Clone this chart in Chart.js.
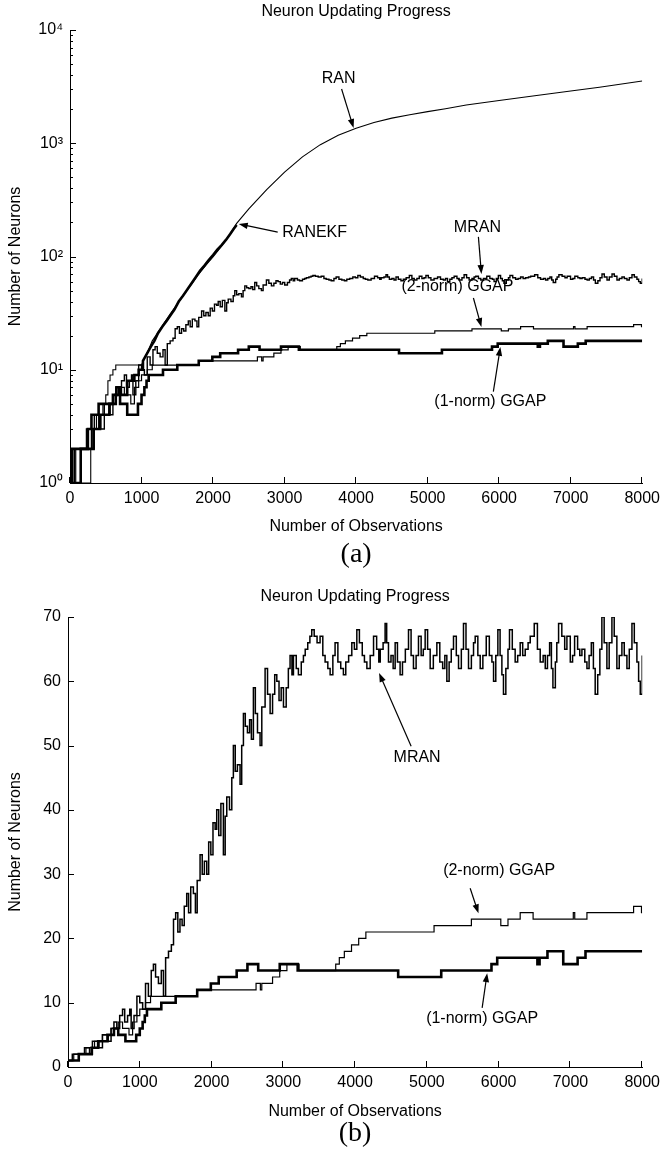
<!DOCTYPE html>
<html>
<head>
<meta charset="utf-8">
<script src="https://cdn.jsdelivr.net/npm/chart.js@4.4.0/dist/chart.umd.min.js"></script>
<style>
html,body{margin:0;padding:0;background:#fff;}
#wrap{position:relative;width:660px;height:1163px;background:#fff;}
.box{position:absolute;left:0;width:660px;}
canvas{display:block;}
</style>
</head>
<body>
<div id="wrap">
  <div class="box" style="top:0;height:575px"><canvas id="ca" width="660" height="575"></canvas></div>
  <div class="box" style="top:575px;height:588px"><canvas id="cb" width="660" height="588"></canvas></div>
</div>
<script>
// ---------- data ----------
const chartTitle = 'Neuron Updating Progress';
const xTitle = 'Number of Observations';
const yTitle = 'Number of Neurons';
const obsTicks = [0, 1000, 2000, 3000, 4000, 5000, 6000, 7000, 8000];
const logTicks = [1, 10, 100, 1000, 10000];
const logTickLabels = ['10⁰', '10¹', '10²', '10³', '10⁴'];
const linTicks = [0, 10, 20, 30, 40, 50, 60, 70];

// [observation, neurons]
const ranPts = [[0,1],[290,1],[290,2],[320,2],[320,3],[400,3],[400,4],[460,4],[460,5],[500,5],[500,6],[530,6],[530,8],[560,8],[560,9],[600,9],[600,10],[640,10],[640,11],[1000,11],
  [1050,13],[1100,15],[1150,18],[1200,20],[1300,25],[1400,31],[1500,38],[1600,47],[1700,57],[1800,70],[1900,84],[2000,99],[2100,119],[2200,145],[2330,196],
  [2500,263],[2750,389],[3000,556],[3250,759],[3500,972],[3750,1175],[4000,1357],[4250,1526],[4500,1667],[4750,1786],[5000,1901],[5250,2018],[5540,2178],[6000,2388],[6471,2612],[7000,2890],[7402,3126],[8000,3548]];

const ranekfPts = [[0,1],[30,1],[30,2],[250,2],[250,3],[300,3],[300,4],[400,4],[400,5],[600,5],[600,6],[650,6],[650,7],[700,7],[700,6],[800,6],[800,8],[900,8],[900,9],[960,9],[960,10],[1020,10],
  [1020,12],[1080,14],[1130,16],[1180,18],[1230,21],[1290,24],[1350,27],[1400,30],[1460,34],[1520,40],[1580,45],[1640,51],[1700,58],[1760,66],[1820,75],[1880,83],[1940,93],[2000,103],[2060,115],[2120,126],[2180,140],[2240,158],[2290,176],[2330,190]];

const mranPts = [[0,1],[60,2],[230,3],[300,2],[340,4],[430,3],[480,5],[560,4],[600,6],[640,7],[680,6],[720,8],[760,9],[790,7],[830,8],[860,9],[880,6],[920,8],[960,11],[1000,10],[1040,9],[1080,13],[1120,11],[1160,15],[1190,16],[1220,14],[1260,13],[1300,15],[1330,11],[1360,17],[1400,18],[1440,19],[1470,23],[1500,24],[1530,21],[1560,23],[1590,22],[1620,25],[1654,27],[1680,24],[1710,28],[1747,27],[1775,24],[1800,29],[1840,33],[1870,30],[1900,32],[1933,30],[1960,35],[1990,33],[2020,38],[2050,37],[2072,40],[2100,36],[2130,41],[2165,33],[2190,39],[2212,42],[2250,40],[2282,45],[2304,50],[2330,46],[2360,47],[2397,44],[2420,50],[2444,55],[2470,53],[2500,52],[2530,54],[2555,51],[2583,59],[2610,55],[2640,52],[2676,50],[2700,56],[2746,62],[2780,58],[2816,55],[2850,58],[2880,61],[2909,60],[2940,57],[2970,59],[3002,56],[3040,59],[3070,62],[3094,64],[3120,61],[3141,64],[3180,62],[3210,61],[3250,63],[3280,64],[3305,65],[3340,66],[3370,67],[3396,68],[3430,67],[3470,66],[3512,67],[3550,64],[3582,63],[3620,62],[3652,61],[3690,64],[3721,66],[3760,63],[3800,62],[3837,61],[3870,63],[3910,64],[3954,66],[3990,65],[4024,68],[4060,66],[4100,64],[4130,63],[4164,62],[4210,64],[4257,67],[4300,65],[4330,63],[4350,65],[4390,66],[4418,69],[4440,66],[4465,63],[4500,64],[4530,62],[4558,66],[4590,63],[4627,61],[4660,63],[4700,65],[4744,68],[4780,64],[4813,62],[4850,64],[4883,67],[4920,64],[4950,65],[4976,68],[5010,65],[5046,62],[5090,64],[5139,66],[5180,63],[5220,62],[5250,64],[5278,60],[5310,63],[5340,65],[5371,67],[5410,64],[5441,62],[5480,65],[5510,69],[5545,65],[5580,62],[5620,64],[5650,66],[5673,67],[5710,64],[5743,62],[5780,64],[5827,67],[5870,64],[5906,63],[5929,60],[5960,64],[5989,68],[6020,64],[6045,61],[6067,58],[6100,62],[6130,65],[6151,68],[6190,65],[6230,63],[6265,64],[6300,66],[6335,64],[6370,65],[6410,66],[6440,67],[6496,69],[6540,65],[6579,63],[6620,64],[6649,62],[6680,64],[6710,66],[6735,62],[6756,59],[6790,63],[6810,66],[6835,69],[6880,67],[6920,65],[6951,67],[6998,63],[7030,64],[7058,67],[7100,65],[7130,64],[7160,65],[7200,63],[7230,62],[7260,64],[7291,66],[7320,62],[7345,58],[7380,61],[7410,65],[7438,70],[7470,66],[7508,62],[7540,66],[7578,70],[7610,67],[7647,62],[7680,64],[7717,66],[7750,64],[7787,62],[7820,65],[7857,69],[7890,66],[7926,63],[7950,60],[7973,58],[8000,64]];

const ggap2Pts = [[0,1],[80,2],[250,3],[370,4],[480,5],[600,6],[700,7],[760,6],[850,5],[900,7],[960,8],[1000,9],[1080,10],[1150,11],[1800,12],[2620,13],[2680,12],[2700,13],[2850,14],[2950,15],[3050,16],[3220,15],[3730,16],[3780,17],[3850,18],[3950,19],[4050,20],[4150,21],[5100,22],[5620,23],[6030,22],[6130,23],[6300,24],[6480,23],[7040,24],[7060,23],[7230,24],[7880,25],[7990,24],[8000,24]];

const ggap1Pts = [[0,1],[150,2],[330,3],[420,4],[550,5],[640,6],[700,5],[800,4],[950,5],[1000,6],[1040,7],[1070,8],[1100,9],[1300,10],[1500,11],[1800,12],[1990,13],[2100,14],[2350,15],[2500,16],[2650,15],[2950,16],[3200,15],[4600,14],[5200,15],[5900,16],[5980,17],[6540,16],[6570,17],[6680,18],[6900,16],[7100,17],[7210,18],[8000,18]];

// annotations: text anchor and arrow (data units)
const notesA = [
  {text:'RAN', at:[3755,3690], from:[3797,3015], to:[3965,1364]},
  {text:'RANEKF', at:[3420,161], from:[2904,164], to:[2359,194]},
  {text:'MRAN', at:[5696,179], from:[5710,149], to:[5752,70]},
  {text:'(2-norm) GGAP', at:[5417,54], from:[5640,43], to:[5752,23.8]},
  {text:'(1-norm) GGAP', at:[5877,5.2], from:[5919,6.4], to:[6017,15.9]}
];
const notesB = [
  {text:'MRAN', at:[4864,48.2], from:[4781,49.9], to:[4334,61.3]},
  {text:'(2-norm) GGAP', at:[6007,30.6], from:[5603,27.8], to:[5719,23.9]},
  {text:'(1-norm) GGAP', at:[5770,7.5], from:[5770,9.2], to:[5840,14.6]}
];

// ---------- rendering ----------
const FF = '"Liberation Sans", Arial, Helvetica, sans-serif';
const SERIF = '"Liberation Serif", "Times New Roman", serif';
const toXY = pts => pts.map(p => ({x: p[0], y: p[1]}));

const inTicks = {
  id: 'inTicks',
  afterDatasetsDraw(chart) {
    const ctx = chart.ctx, xs = chart.scales.x, ys = chart.scales.y, a = chart.chartArea;
    ctx.save();
    ctx.strokeStyle = '#000'; ctx.lineWidth = 1;
    ctx.beginPath();
    xs.ticks.forEach(t => {
      const px = Math.round(xs.getPixelForValue(t.value)) - 0.5;
      ctx.moveTo(px, a.bottom); ctx.lineTo(px, a.bottom - 6);
    });
    ys.ticks.forEach(t => {
      const py = Math.round(ys.getPixelForValue(t.value)) + 0.5;
      ctx.moveTo(a.left, py); ctx.lineTo(a.left + 6, py);
    });
    if (ys.type === 'logarithmic') {
      [1, 10, 100, 1000].forEach(d => {
        for (let k = 2; k <= 9; k++) {
          const py = Math.round(ys.getPixelForValue(d * k)) + 0.5;
          ctx.moveTo(a.left, py); ctx.lineTo(a.left + 3, py);
        }
      });
    }
    ctx.stroke();
    ctx.restore();
  }
};

function notesPlugin(items) {
  return {
    id: 'notes',
    afterDatasetsDraw(chart) {
      const ctx = chart.ctx, xs = chart.scales.x, ys = chart.scales.y;
      ctx.save();
      ctx.fillStyle = '#000'; ctx.strokeStyle = '#000';
      ctx.font = '16px ' + FF; ctx.textAlign = 'center'; ctx.textBaseline = 'middle';
      items.forEach(n => {
        ctx.fillText(n.text, xs.getPixelForValue(n.at[0]), ys.getPixelForValue(n.at[1]));
        const x0 = xs.getPixelForValue(n.from[0]), y0 = ys.getPixelForValue(n.from[1]);
        const x1 = xs.getPixelForValue(n.to[0]), y1 = ys.getPixelForValue(n.to[1]);
        const ang = Math.atan2(y1 - y0, x1 - x0), L = 9, W = 3.2;
        const c = Math.cos(ang), s = Math.sin(ang);
        ctx.lineWidth = 1.2;
        ctx.beginPath(); ctx.moveTo(x0, y0); ctx.lineTo(x1 - L * c * 0.8, y1 - L * s * 0.8); ctx.stroke();
        ctx.beginPath();
        ctx.moveTo(x1, y1);
        ctx.lineTo(x1 - L * c + W * s, y1 - L * s - W * c);
        ctx.lineTo(x1 - L * c - W * s, y1 - L * s + W * c);
        ctx.closePath(); ctx.fill();
      });
      ctx.restore();
    }
  };
}

function ds(pts, width, stepped) {
  return {data: toXY(pts), borderColor: '#000', borderWidth: width, pointRadius: 0,
          fill: false, tension: 0, stepped: stepped, spanGaps: true};
}

function build(id, o) {
  const font16 = {family: FF, size: 16, weight: 'normal'};
  return new Chart(document.getElementById(id), {
    type: 'line',
    data: {datasets: o.datasets},
    plugins: [inTicks, notesPlugin(o.notes)],
    options: {
      responsive: false, animation: false, devicePixelRatio: 1,
      layout: {padding: {left: 0, right: 0, top: 0, bottom: 0}},
      plugins: {
        legend: {display: false}, tooltip: {enabled: false},
        title: {display: true, fullSize: false, text: chartTitle, color: '#000', font: font16, padding: o.titlePad},
        subtitle: {display: true, fullSize: false, position: 'bottom', text: o.tag, color: '#000',
                   font: {family: SERIF, size: 28, weight: 'normal', lineHeight: 1}, padding: o.tagPad}
      },
      scales: {
        x: {
          type: 'linear', min: 0, max: 8000,
          afterBuildTicks: s => { s.ticks = obsTicks.map(v => ({value: v})); },
          afterFit: s => { s.height = o.xHeight; },
          ticks: {color: '#000', font: font16, padding: 0, maxRotation: 0, autoSkip: false,
                  callback: v => String(v)},
          grid: {display: false, drawTicks: true, tickLength: 6.4},
          border: {display: true, color: '#000', width: 1},
          title: {display: true, text: xTitle, color: '#000',
                  font: {family: FF, size: 16, weight: 'normal', lineHeight: 1}, padding: {top: 0, bottom: o.xTitlePad}}
        },
        y: o.y
      }
    }
  });
}

const yCommon = {
  grid: {display: false, drawTicks: false},
  border: {display: true, color: '#000', width: 1},
  title: {display: true, text: yTitle, color: '#000', font: {family: FF, size: 16, weight: 'normal'}, padding: {top: 6.4, bottom: 0}}
};

build('ca', {
  datasets: [ds(ggap1Pts, 2.6, true), ds(ranekfPts, 2.6, false), ds(mranPts, 1.4, true), ds(ggap2Pts, 1.2, true), ds(ranPts, 1.1, false)],
  notes: notesA, tag: '(a)',
  titlePad: {top: 2, bottom: 8.8}, tagPad: {top: 0, bottom: 6},
  xHeight: 58, xTitlePad: 6,
  y: Object.assign({}, yCommon, {
    type: 'logarithmic', min: 1, max: 10000,
    afterBuildTicks: s => { s.ticks = logTicks.map(v => ({value: v})); },
    afterFit: s => { s.width = 70; },
    ticks: {color: '#000', font: {family: FF, size: 16}, padding: 7, autoSkip: false,
            callback: v => logTickLabels[logTicks.indexOf(v)] || ''}
  })
});

build('cb', {
  datasets: [ds(ggap1Pts, 2.6, true), ds(mranPts, 1.5, true), ds(ggap2Pts, 1.2, true)],
  notes: notesB, tag: '(b)',
  titlePad: {top: 12.4, bottom: 10.4}, tagPad: {top: 0, bottom: 15},
  xHeight: 53, xTitlePad: 0,
  y: Object.assign({}, yCommon, {
    type: 'linear', min: 0, max: 70,
    afterBuildTicks: s => { s.ticks = linTicks.map(v => ({value: v})); },
    afterFit: s => { s.width = 68; },
    ticks: {color: '#000', font: {family: FF, size: 16}, padding: 7, autoSkip: false,
            callback: v => String(v)}
  })
});
</script>
</body>
</html>
